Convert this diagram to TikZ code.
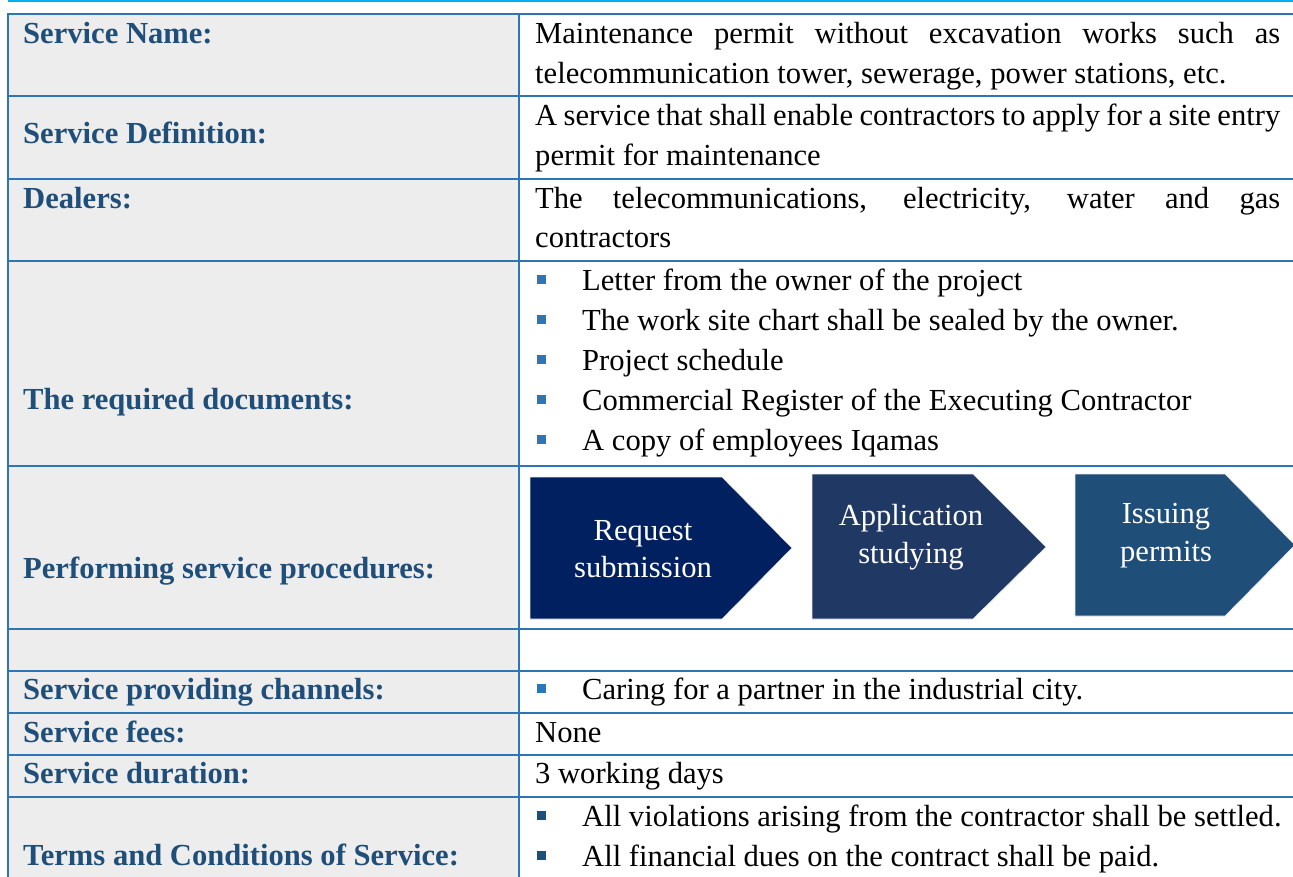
\documentclass[tikz,border=0pt]{standalone}
\usepackage{fontspec}
\setmainfont{Liberation Serif}
\definecolor{bordc}{HTML}{2E75B6}
\definecolor{labc}{HTML}{1F4E79}
\definecolor{grayf}{HTML}{EDEDED}
\definecolor{cyanl}{HTML}{00B0F0}
\definecolor{arA}{HTML}{002060}
\definecolor{arB}{HTML}{203864}
\definecolor{arC}{HTML}{1F4E79}
\begin{document}
\begin{tikzpicture}[x=1pt,y=-1pt,
  lab/.style={anchor=base west, inner sep=0pt, font=\fontsize{30.6}{40}\selectfont\bfseries, text=labc},
  txt/.style={anchor=base west, inner sep=0pt, font=\fontsize{30.6}{40}\selectfont, text=black},
  wtxt/.style={anchor=base, inner sep=0pt, font=\fontsize{30.6}{40}\selectfont, text=white},
  rule/.style={draw=bordc, line width=2pt},
  bulA/.style={fill=bordc},
  bulB/.style={fill=labc},
  chev/.style={draw=white!85!gray, line width=0.6pt}
]
\useasboundingbox (0,0) rectangle (1293,876);
\clip (0,0) rectangle (1293,876);
\fill[white] (0,0) rectangle (1293,876);
% top cyan line
\draw[cyanl, line width=2pt] (8,1) -- (1300,1);
% left column fill
\fill[grayf] (8,14) rectangle (519,890);
% horizontal rules
\foreach \yy in {14,96,179,261,466,629,671,713,755,797}
  \draw[rule] (8,\yy) -- (1300,\yy);
% vertical rules
\draw[rule] (8,13) -- (8,890);
\draw[rule] (519,13) -- (519,890);

% left labels
\node[lab] (l1) at (23,43) {Service Name:};
\node[lab] (l2) at (23,143) {Service Definition:};
\node[lab] (l3) at (23,208) {Dealers:};
\node[lab] (l4) at (23,409) {The required documents:};
\node[lab] (l5) at (23,578) {Performing service procedures:};
\node[lab] (l7) at (23,699) {Service providing channels:};
\node[lab] (l8) at (23,742) {Service fees:};
\node[lab] (l9) at (23,783) {Service duration:};
\node[lab] (l10) at (23,865) {Terms and Conditions of Service:};

% row 1
\node[txt] (r1a) at (535,43) {\makebox[745pt][s]{Maintenance permit without excavation works such as}};
\node[txt] (r1b) at (535,83) {telecommunication tower, sewerage, power stations, etc.};
% row 2
\node[txt] (r2a) at (535,125) {\makebox[745pt][s]{A service that shall enable contractors to apply for a site entry}};
\node[txt] (r2b) at (535,165) {permit for maintenance};
% row 3
\node[txt] (r3a) at (535,208) {\makebox[745pt][s]{The telecommunications, electricity, water and gas}};
\node[txt] (r3b) at (535,247) {contractors};
% row 4 bullets
\foreach \yy/\tt [count=\i] in {290/Letter from the owner of the project,
  330/The work site chart shall be sealed by the owner.,
  370/Project schedule,
  410/Commercial Register of the Executing Contractor,
  450/A copy of employees Iqamas}{
  \fill[bulA] (537,\yy-15) rectangle (546,\yy-6);
  \node[txt] (d\i) at (582,\yy) {\tt};
}
% row 5 chevrons
\fill[arA] (530,477) -- (722,477) -- (792,548) -- (722,619) -- (530,619) -- cycle;
\draw[chev] (530,477) -- (722,477) -- (792,548) -- (722,619) -- (530,619) -- cycle;
\node[wtxt] (c1a) at (643,540) {Request};
\node[wtxt] (c1b) at (643,577) {submission};
\fill[arB] (812,474) -- (973,474) -- (1046,547) -- (973,619) -- (812,619) -- cycle;
\draw[chev] (812,474) -- (973,474) -- (1046,547) -- (973,619) -- (812,619) -- cycle;
\node[wtxt] (c2a) at (911,525) {Application};
\node[wtxt] (c2b) at (911,563) {studying};
\fill[arC] (1075,474) -- (1225,474) -- (1295,545) -- (1225,616) -- (1075,616) -- cycle;
\draw[chev] (1075,474) -- (1225,474) -- (1295,545) -- (1225,616) -- (1075,616) -- cycle;
\node[wtxt] (c3a) at (1166,523) {Issuing};
\node[wtxt] (c3b) at (1166,561) {permits};
% row 7
\fill[bulA] (537,684) rectangle (546,693);
\node[txt] (r7) at (582,699) {Caring for a partner in the industrial city.};
% row 8, 9
\node[txt] (r8) at (535,742) {None};
\node[txt] (r9) at (535,783) {3 working days};
% row 10
\fill[bulB] (537,811) rectangle (546,820);
\node[txt] (t1) at (582,826) {All violations arising from the contractor shall be settled.};
\fill[bulB] (537,851) rectangle (546,860);
\node[txt] (t2) at (582,866) {All financial dues on the contract shall be paid.};
\end{tikzpicture}
\end{document}
